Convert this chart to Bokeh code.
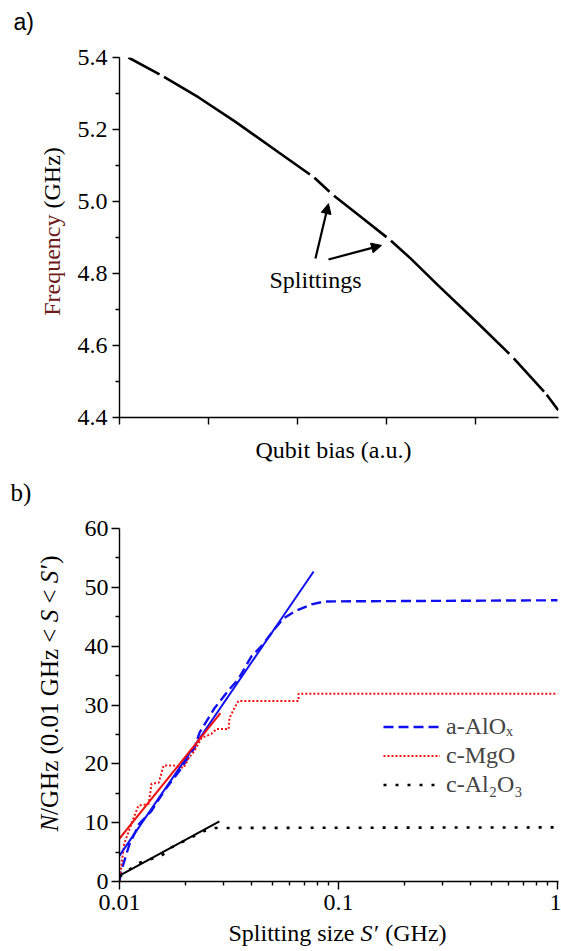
import math
from bokeh.plotting import figure
from bokeh.layouts import column, row
from bokeh.models import (FixedTicker, CustomJSTickFormatter, Label, Arrow,
                          NormalHead, Legend, LegendItem, Range1d, Plot)
from bokeh.embed import file_html
from bokeh.resources import INLINE

nan = float("nan")

# ---------------- Panel a: qubit spectroscopy ----------------
bias = [0.10, 0.45, nan, 0.50, 0.89, 1.30, 1.79, 2.14, nan, 2.19, 2.36, nan,
        2.41, 2.70, 3.00, nan, 3.05, 3.27, 3.58, 4.03, 4.38, nan, 4.43, 4.77,
        nan, 4.80, 4.93]
freq = [5.400, 5.353, nan, 5.346, 5.289, 5.222, 5.136, 5.075, nan, 5.066,
        5.027, nan, 5.016, 4.960, 4.901, nan, 4.891, 4.842, 4.767, 4.661,
        4.577, nan, 4.564, 4.472, nan, 4.463, 4.420]
freq_ticks = [4.4, 4.6, 4.8, 5.0, 5.2, 5.4]
freq_minor = [4.5, 4.7, 4.9, 5.1, 5.3]
bias_ticks = [0, 1, 2, 3, 4]
# arrows: (start bias, start freq, tip bias, tip freq)
split_arrows = [(2.202, 4.842, 2.348, 4.994), (2.348, 4.839, 2.944, 4.878)]

# ---------------- Panel b: cumulative splitting density ----------------
s_alox = [0.0100, 0.0102, 0.0111, 0.0123, 0.0140, 0.0160, 0.0192, 0.0220,
          0.0232, 0.0272, 0.0318, 0.0349, 0.0401, 0.0445, 0.0510, 0.0561,
          0.0630, 0.0753, 0.0863, 1.0]
n_alox = [0.0, 1.9, 6.3, 9.8, 12.0, 15.4, 19.3, 22.7, 25.3, 29.5, 32.7, 34.4,
          38.3, 40.0, 42.9, 44.7, 45.9, 47.1, 47.6, 47.8]
s_mgo = [0.0100, 0.0103, 0.0105, 0.0116, 0.0122, 0.0136, 0.0140, 0.0151,
         0.0159, 0.0178, 0.0196, 0.0207, 0.0220, 0.0237, 0.0263, 0.0277,
         0.0315, 0.0318, 0.0335, 0.0349, 0.0657, 0.0657, 1.0]
n_mgo = [0.0, 3.9, 6.4, 10.8, 12.9, 13.2, 16.6, 16.8, 19.7, 19.7, 19.3, 21.0,
         22.2, 24.4, 25.1, 25.9, 25.9, 27.8, 29.5, 30.7, 30.7, 31.9, 31.9]
s_al2o3 = [0.0100, 0.0122, 0.0136, 0.0156, 0.0173, 0.0213, 0.0244, 0.0272, 1.0]
n_al2o3 = [0.8, 3.1, 3.7, 4.4, 5.8, 7.5, 8.6, 9.1, 9.2]
fit_alox_s = [0.0100, 0.0770]
fit_alox_n = [4.4, 52.7]
fit_mgo_s = [0.0100, 0.0289]
fit_mgo_n = [7.3, 28.6]
fit_al2o3_s = [0.0100, 0.0286]
fit_al2o3_n = [1.0, 10.2]
legend_names = ["a-AlO\u2093", "c-MgO", "c-Al\u2082O\u2083"]
n_ticks = [0, 10, 20, 30, 40, 50, 60]
n_minor = [5, 15, 25, 35, 45, 55]
s_ticks = [0.01, 0.1, 1]
s_minor = [0.02, 0.03, 0.04, 0.05, 0.06, 0.07, 0.08, 0.09,
           0.2, 0.3, 0.4, 0.5, 0.6, 0.7, 0.8, 0.9]

SERIF = "Liberation Serif"
FS = "24px"
FSN = 24.0
BASE_FIX = 8   # Label "alphabetic" baseline sits ~8px low; compensate

# page layout (pixels)
PAGE_W, PAGE_H = 561, 951
LS = 70                      # left strip width (y titles, panel letters)
RW = PAGE_W - LS             # right column width
BL, BR = 49, 3               # common frame borders of the right column
FL, FR = LS + BL, PAGE_W - BR  # frame left/right on the page (119, 558)
FW = FR - FL                 # 439
HA, HSA, HB = 430, 40, 449   # panel a, its x-title strip, panel b
HSB = PAGE_H - HA - HSA - HB # panel b x-title strip


def style_axes(p):
    for ax in (p.xaxis[0], p.yaxis[0]):
        ax.axis_line_width = 1.4
        ax.major_tick_line_width = 1.4
        ax.minor_tick_line_width = 1.4
        ax.major_tick_in = 0
        ax.minor_tick_in = 0
        ax.major_label_text_font = SERIF
        ax.major_label_text_font_size = FS
        ax.major_label_text_color = "black"
        ax.axis_line_color = "black"
        ax.major_tick_line_color = "black"
        ax.minor_tick_line_color = "black"
    p.xgrid.visible = False
    p.ygrid.visible = False
    p.outline_line_color = None


def strip(w, h, x0, x1, y_top, y_bot, bl=0, br=0):
    # a bare canvas whose data coordinates are page pixels
    return Plot(width=w, height=h, output_backend="svg", toolbar_location=None,
                title=None, x_range=Range1d(x0, x1), y_range=Range1d(y_bot, y_top),
                min_border=0, min_border_left=bl, min_border_right=br,
                min_border_top=0, min_border_bottom=0,
                outline_line_color=None)


def txt(fig, x, y, text, size=FS, font=SERIF, style="normal", align="left",
        baseline="alphabetic", angle=0.0, color="black"):
    fig.add_layout(Label(x=x, y=y, text=text, text_font=font,
                         text_font_size=size, text_font_style=style,
                         text_align=align, text_baseline=baseline,
                         angle=angle, text_color=color))

# ---------------- figure a ----------------
pa = figure(width=RW, height=HA, output_backend="svg", toolbar_location=None,
            x_range=Range1d(0, FW / 89.0), y_range=Range1d(4.4, 5.4),
            min_border_left=BL, min_border_right=BR, min_border_top=57,
            min_border_bottom=HA - 417)
style_axes(pa)
pa.xaxis.ticker = FixedTicker(ticks=bias_ticks, minor_ticks=[])
pa.xaxis.major_label_overrides = {t: "" for t in bias_ticks}
pa.xaxis.major_label_text_font_size = "0px"
pa.xaxis.major_label_standoff = 0
pa.xaxis.major_tick_out = 7
pa.yaxis.ticker = FixedTicker(ticks=freq_ticks, minor_ticks=freq_minor)
pa.yaxis.formatter = CustomJSTickFormatter(code="return tick.toFixed(1);")
pa.yaxis.major_tick_out = 7
pa.yaxis.minor_tick_out = 4
pa.yaxis.major_label_standoff = 5

pa.line(bias, freq, line_color="black", line_width=2.6)

for (x0, y0, x1, y1) in split_arrows:
    pa.add_layout(Arrow(x_start=x0, y_start=y0, x_end=x1, y_end=y1,
                        line_color="black", line_width=2.2,
                        end=NormalHead(size=10, fill_color="black",
                                       line_color="black", line_width=1)))

# "Splittings" annotation, placed relative to the arrows (panel-a data units)
txt(pa, (317 - 121) / 89.0, 5.4 - (287 - BASE_FIX - 57) / 360.0, "Splittings",
    align="center")

# x-title strip for panel a (page y 430..470)
sa = strip(RW, HSA, FL, FR, HA, HA + HSA, BL, BR)
txt(sa, 333, 457 - BASE_FIX, "Qubit bias (a.u.)", align="center")

# ---------------- figure b ----------------
pb = figure(width=RW, height=HB, output_backend="svg", toolbar_location=None,
            x_axis_type="log",
            x_range=Range1d(0.01, 10 ** (-2 + FW / 219.0)),
            y_range=Range1d(0, 60),
            min_border_left=BL, min_border_right=BR,
            min_border_top=528 - (HA + HSA),
            min_border_bottom=HA + HSA + HB - 881)
style_axes(pb)
pb.xaxis.ticker = FixedTicker(ticks=s_ticks, minor_ticks=s_minor)
pb.xaxis.formatter = CustomJSTickFormatter(code="return String(tick);")
pb.xaxis.major_tick_out = 8
pb.xaxis.minor_tick_out = 4
pb.xaxis.major_label_standoff = 5
pb.yaxis.ticker = FixedTicker(ticks=n_ticks, minor_ticks=n_minor)
pb.yaxis.major_tick_out = 8
pb.yaxis.minor_tick_out = 4
pb.yaxis.major_label_standoff = 3

r_alox = pb.line(s_alox, n_alox, line_color="#1010F0", line_width=2.4,
                 line_dash="10 5")
r_mgo = pb.line(s_mgo, n_mgo, line_color="#F01010", line_width=2.0,
                line_dash="2 2")
r_al = pb.line(s_al2o3, n_al2o3, line_color="black", line_width=2.6,
               line_dash="3 9")
pb.line(fit_alox_s, fit_alox_n, line_color="#1010F0", line_width=2.0)
pb.line(fit_mgo_s, fit_mgo_n, line_color="#F01010", line_width=2.0)
pb.line(fit_al2o3_s, fit_al2o3_n, line_color="black", line_width=2.0)

legend = Legend(items=[LegendItem(label=legend_names[0], renderers=[r_alox]),
                       LegendItem(label=legend_names[1], renderers=[r_mgo]),
                       LegendItem(label=legend_names[2], renderers=[r_al])],
                location=(383 - FL, 881 - 798), padding=0, margin=0, spacing=2,
                glyph_width=57, glyph_height=27, label_height=27,
                label_standoff=6, label_text_font=SERIF,
                label_text_font_size=FS, border_line_color=None,
                background_fill_alpha=0)
pb.add_layout(legend, "center")

# x-title strip for panel b: "Splitting size S′ (GHz)"
y0b = HA + HSA + HB
sb = strip(RW, HSB, FL, FR, y0b, PAGE_H, BL, BR)
SP = 0.25
xparts = [("Splitting size", "normal", 5.251), ("S\u2032", "italic", 0.78),
          ("(GHz)", "normal", 2.554)]
tot = (sum(w for _, _, w in xparts) + 2 * SP) * FSN
px = 337 - tot / 2
for t, st, w in xparts:
    txt(sb, px, 940 - BASE_FIX, t, style=st)
    px += (w + SP) * FSN

# ---------------- left strip: panel letters and y titles ----------------
sl = strip(LS, PAGE_H, 0, LS, 0, PAGE_H)
txt(sl, 13, 29 - BASE_FIX, "a)", size="23px", font="Liberation Sans")
txt(sl, 10, 500 - BASE_FIX, "b)", size="25px")

w_freq = 4.221 * FSN
w_sp = SP * FSN
w_ghz = 2.554 * FSN
start = 231 + (w_freq + w_sp + w_ghz) / 2
txt(sl, 51, start, "Frequency", angle=math.pi / 2, baseline="middle",
    color="#6E1A1A")
txt(sl, 51, start - w_freq - w_sp, "(GHz)", angle=math.pi / 2,
    baseline="middle")

FY = 25.0
yparts = [("N", "italic", 0.667, 0.0), ("/GHz (0.01 GHz <", "normal", 7.451, SP),
          ("S", "italic", 0.500, SP), ("<", "normal", 0.564, SP),
          ("S\u2032", "italic", 0.78, 0.0), (")", "normal", 0.333, 0.0)]
tot = sum(w + g for _, _, w, g in yparts) * FY
py = 693 + tot / 2
for t, st, w, g in yparts:
    txt(sl, 49, py, t, size="25px", style=st, angle=math.pi / 2,
        baseline="middle")
    py -= (w + g) * FY

layout = row(sl, column(pa, sa, pb, sb))
with open("out.html", "w") as f:
    f.write(file_html(layout, INLINE, "chart"))
